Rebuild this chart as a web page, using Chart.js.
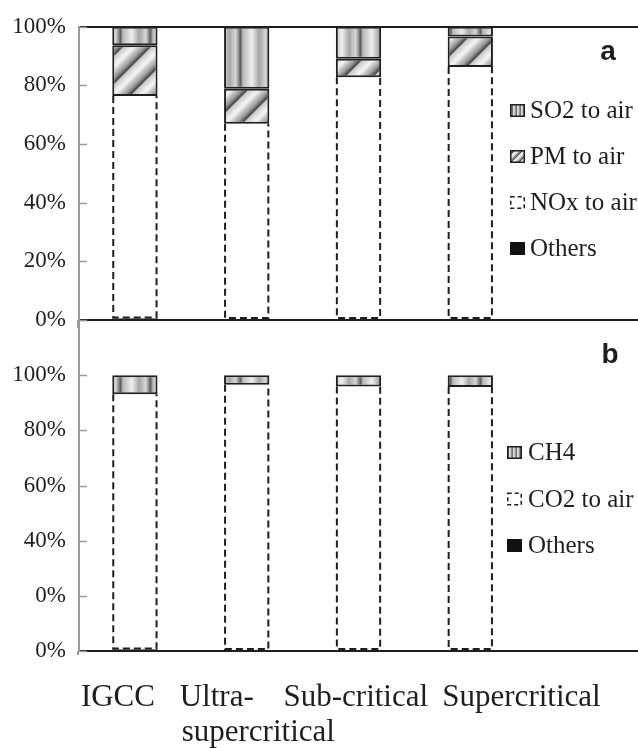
<!DOCTYPE html>
<html><head><meta charset="utf-8">
<script src="https://cdn.jsdelivr.net/npm/chart.js@4.4.1/dist/chart.umd.min.js"></script>
<style>
html,body{margin:0;padding:0;background:#fff;}
#wrap{position:relative;width:638px;height:748px;overflow:hidden;}
canvas{position:absolute;left:0;top:0;}
</style></head><body>
<div id="wrap"><canvas id="cb" width="638" height="748"></canvas><canvas id="ca" width="638" height="748"></canvas></div>
<script>
// ---- data ----
const categories = ['IGCC', 'Ultra-supercritical', 'Sub-critical', 'Supercritical'];
const xLabelLines = [['IGCC'], ['Ultra-', 'supercritical'], ['Sub-critical'], ['Supercritical']];

// panel a (shares of each category, %)
const aOthers = [0.5, 0, 0, 0];
const aNOx    = [75.9, 66.9, 82.8, 86.3];
const aPM     = [17.3, 12.0, 6.3, 10.4];
const aSO2    = [6.3, 21.1, 10.9, 3.3];
const aTickLabels = ['0%', '20%', '40%', '60%', '80%', '100%'];

// panel b
const bOthers = [0.5, 0, 0, 0];
const bCO2    = [92.6, 96.5, 95.9, 95.7];
const bCH4    = [6.9, 3.5, 4.1, 4.3];
const bTickLabels = ['0%', '0%', '40%', '60%', '80%', '100%', ''];

// ---- layout / style ----
const INK = '#1e1e1e';
const AXIS_GRAY = '#9a9a9a';
const SERIF = '"Liberation Serif", "Times New Roman", serif';
const xLabelLayout = [[{dx: -54, y: 706}], [{dx: -67, y: 706}, {dx: -65, y: 741}], [{dx: -75, y: 706}], [{dx: -28, y: 706}]];

function interp(stops, t) {
  for (let i = 1; i < stops.length; i++) {
    if (t <= stops[i][0]) {
      const a = stops[i - 1], b = stops[i];
      const u = (t - a[0]) / (b[0] - a[0]);
      return a[1] + (b[1] - a[1]) * u;
    }
  }
  return stops[stops.length - 1][1];
}
function makePattern(ctx, w, h, fn) {
  const c = document.createElement('canvas');
  c.width = w; c.height = h;
  const x = c.getContext('2d');
  const id = x.createImageData(w, h);
  for (let j = 0; j < h; j++) for (let i = 0; i < w; i++) {
    const g = Math.round(fn(i, j));
    const k = (j * w + i) * 4;
    id.data[k] = id.data[k + 1] = id.data[k + 2] = g; id.data[k + 3] = 255;
  }
  x.putImageData(id, 0, 0);
  return ctx.createPattern(c, 'repeat');
}
const vStops = [[0, 95], [0.08, 185], [0.38, 238], [0.62, 165], [0.84, 215], [1, 95]];
const dStops = [[0, 70], [0.07, 200], [0.42, 246], [0.82, 150], [1, 70]];
function patterns(ctx) {
  const P = 30, D = 28;
  return {
    vert: makePattern(ctx, P, 1, (i) => interp(vStops, i / P)),
    diag: makePattern(ctx, D, D, (i, j) => interp(dStops, ((i + j) % D) / D)),
    vertIcon: makePattern(ctx, 4, 1, (i) => [110, 225, 200, 150][i]),
    diagIcon: makePattern(ctx, 8, 8, (i, j) => interp(dStops, ((i + j) % 8) / 8))
  };
}

// ---- plugins ----
const dashedBars = {
  id: 'dashedBars',
  afterDatasetsDraw(chart) {
    const ctx = chart.ctx;
    chart.data.datasets.forEach((ds, di) => {
      if (!ds.dashed) return;
      const meta = chart.getDatasetMeta(di);
      meta.data.forEach((el) => {
        const p = el.getProps(['x', 'y', 'base', 'width'], true);
        const top = Math.min(p.y, p.base), bot = Math.max(p.y, p.base);
        if (bot - top < 1) return;
        const l = p.x - p.width / 2, r = p.x + p.width / 2;
        ctx.save();
        ctx.strokeStyle = INK; ctx.lineWidth = 2; ctx.setLineDash([7, 4]);
        ctx.beginPath();
        ctx.moveTo(l + 1, top); ctx.lineTo(l + 1, bot - 1);
        ctx.lineTo(r - 1, bot - 1); ctx.lineTo(r - 1, top);
        ctx.stroke();
        ctx.restore();
      });
    });
  }
};
const innerTicks = {
  id: 'innerTicks',
  afterDraw(chart, args, opts) {
    const ctx = chart.ctx, ys = chart.scales.y, a = chart.chartArea;
    ctx.save();
    ctx.strokeStyle = AXIS_GRAY; ctx.lineWidth = 1.5;
    ys.ticks.forEach((t) => {
      const y = Math.round(ys.getPixelForValue(t.value)) + 0.5;
      ctx.beginPath(); ctx.moveTo(a.left, y); ctx.lineTo(a.left + 8, y); ctx.stroke();
    });
    ctx.lineWidth = 2;
    ctx.beginPath(); ctx.moveTo(a.left - 1, a.bottom); ctx.lineTo(a.left - 1, a.bottom + (opts.extend || 0)); ctx.stroke();
    ctx.restore();
  }
};
const panelLegend = {
  id: 'panelLegend',
  afterDraw(chart, args, opts) {
    const ctx = chart.ctx;
    ctx.save();
    ctx.textAlign = 'left'; ctx.textBaseline = 'alphabetic';
    opts.order.forEach((di, k) => {
      const ds = chart.data.datasets[di];
      const by = opts.y0 + k * opts.dy;
      const ix = opts.iconX, iw = 15, ih = 13, iy = by - 1 - ih;
      if (ds.dashed) {
        ctx.fillStyle = '#fff'; ctx.fillRect(ix, iy, iw, ih);
        ctx.strokeStyle = INK; ctx.lineWidth = 1.5; ctx.setLineDash([4, 3]);
        ctx.strokeRect(ix + 0.75, iy + 0.75, iw - 1.5, ih - 1.5);
        ctx.setLineDash([]);
      } else {
        ctx.fillStyle = ds.iconFill || ds.backgroundColor;
        ctx.fillRect(ix, iy, iw, ih);
        if (ds.borderWidth) {
          ctx.strokeStyle = INK; ctx.lineWidth = 1.5;
          ctx.strokeRect(ix + 0.75, iy + 0.75, iw - 1.5, ih - 1.5);
        }
      }
      ctx.fillStyle = INK;
      ctx.font = '25px ' + SERIF;
      ctx.fillText(ds.label, opts.textX, by);
    });
    ctx.font = 'bold 28px "Liberation Sans", Arial, sans-serif';
    ctx.textAlign = 'center';
    ctx.fillText(opts.tag, opts.tagX, opts.tagY);
    ctx.restore();
  }
};
const xLabels = {
  id: 'xLabels',
  afterDraw(chart, args, opts) {
    if (!opts.show) return;
    const ctx = chart.ctx, xs = chart.scales.x;
    ctx.save();
    ctx.font = '31px ' + SERIF; ctx.fillStyle = INK;
    ctx.textAlign = 'left'; ctx.textBaseline = 'alphabetic';
    xLabelLines.forEach((lines, i) => {
      const cx = xs.getPixelForValue(i);
      lines.forEach((txt, j) => {
        const L = xLabelLayout[i][j];
        ctx.fillText(txt, cx + L.dx, L.y);
      });
    });
    ctx.restore();
  }
};

function barDs(label, data, fill, opts) {
  return Object.assign({
    label, data, backgroundColor: fill, borderColor: INK, borderWidth: 2,
    borderSkipped: false, barPercentage: 0.405, categoryPercentage: 1.0
  }, opts || {});
}

function makeOptions(max, tickLabels, pad, legendOpts, showX, extend) {
  return {
    responsive: false, animation: false, devicePixelRatio: 1,
    layout: { padding: pad },
    plugins: {
      legend: { display: false }, tooltip: { enabled: false },
      panelLegend: legendOpts, xLabels: { show: showX }, innerTicks: { extend }
    },
    scales: {
      x: {
        type: 'category', stacked: true,
        ticks: { display: false },
        grid: { display: false },
        border: { display: true, color: INK, width: 2 },
        afterFit: (s) => { s.height = 0; }
      },
      y: {
        stacked: true, min: 0, max: max,
        ticks: {
          stepSize: 20, padding: 13, color: INK,
          font: { family: '"Liberation Serif", "Times New Roman", serif', size: 23 },
          callback: (v, i) => tickLabels[i]
        },
        grid: {
          drawTicks: false, lineWidth: 2,
          color: (c) => (c.tick && c.tick.value === max) ? INK : 'rgba(0,0,0,0)'
        },
        border: { display: true, color: AXIS_GRAY, width: 2 },
        afterFit: (s) => { s.width = 79; }
      }
    }
  };
}

const labels = categories.concat(['']);

// ---- panel a ----
const ctxA = document.getElementById('ca').getContext('2d');
const pa = patterns(ctxA);
new Chart(ctxA, {
  type: 'bar',
  data: {
    labels,
    datasets: [
      barDs('Others', aOthers, '#111', { borderWidth: 0 }),
      barDs('NOx to air', aNOx, 'rgba(0,0,0,0)', { borderWidth: 0, dashed: true }),
      barDs('PM to air', aPM, pa.diag, { iconFill: pa.diagIcon }),
      barDs('SO2 to air', aSO2, pa.vert, { iconFill: pa.vertIcon })
    ]
  },
  options: makeOptions(100, aTickLabels, { top: 20, bottom: 428, left: 0, right: -4 },
    { order: [3, 2, 1, 0], y0: 118, dy: 46, iconX: 510, textX: 530, tag: 'a', tagX: 608, tagY: 60 }, false, 8),
  plugins: [dashedBars, innerTicks, panelLegend, xLabels]
});

// ---- panel b ----
const ctxB = document.getElementById('cb').getContext('2d');
const pb = patterns(ctxB);
new Chart(ctxB, {
  type: 'bar',
  data: {
    labels,
    datasets: [
      barDs('Others', bOthers, '#111', { borderWidth: 0 }),
      barDs('CO2 to air', bCO2, 'rgba(0,0,0,0)', { borderWidth: 0, dashed: true }),
      barDs('CH4', bCH4, pb.vert, { iconFill: pb.vertIcon })
    ]
  },
  options: makeOptions(120, bTickLabels, { top: 320, bottom: 97, left: 0, right: -4 },
    { order: [2, 1, 0], y0: 460, dy: 46.5, iconX: 507, textX: 528, tag: 'b', tagX: 610, tagY: 363 }, true, 4),
  plugins: [dashedBars, innerTicks, panelLegend, xLabels]
});
</script>
</body></html>
